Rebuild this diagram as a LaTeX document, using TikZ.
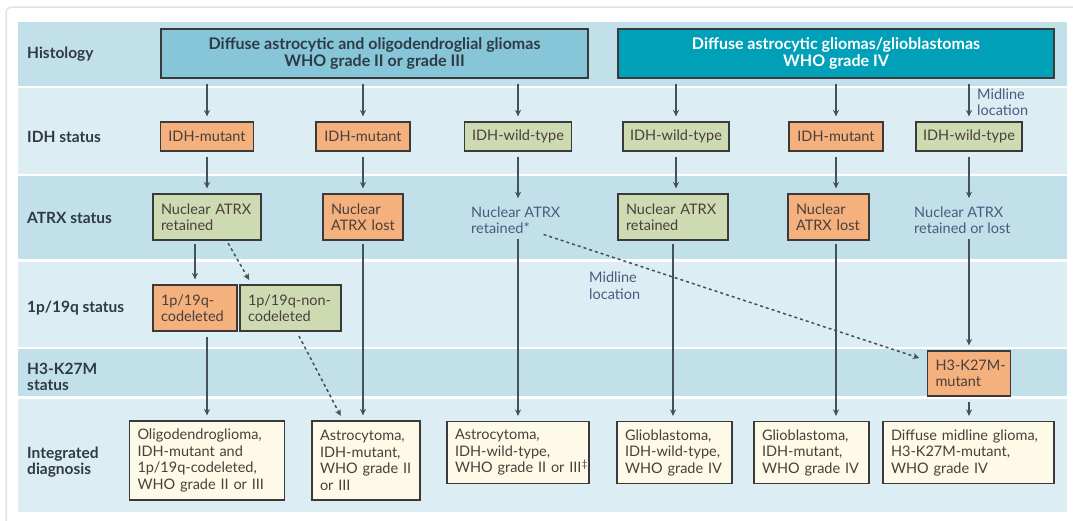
\documentclass[tikz,border=0pt]{standalone}
\usepackage{fontspec}
\setmainfont{Lato}
\usetikzlibrary{arrows.meta,calc}
\exhyphenpenalty=10000
\hyphenpenalty=10000
\definecolor{bandD}{HTML}{C2E0E9}
\definecolor{bandL}{HTML}{DCEEF3}
\definecolor{histA}{HTML}{86C6D8}
\definecolor{histB}{HTML}{00A0B8}
\definecolor{orangeF}{HTML}{F4B07D}
\definecolor{greenF}{HTML}{CEDAB2}
\definecolor{creamF}{HTML}{FDFAE8}
\definecolor{edgeC}{HTML}{3A3A3A}
\definecolor{arrC}{HTML}{44505A}
\definecolor{boxT}{HTML}{4A3F3B}
\definecolor{freeT}{HTML}{4B5A7E}
\definecolor{labT}{HTML}{2E3A44}
\definecolor{frameC}{HTML}{E2E2E2}
\begin{document}
\begin{tikzpicture}[x=1pt,y=-1pt,
  rowlab/.style={anchor=west,inner sep=0pt,align=left,text=labT,font=\fontsize{15.5}{16.5}\selectfont\bfseries},
  histbox/.style={draw=edgeC,line width=1.2pt,inner sep=0pt,align=center,font=\fontsize{16}{17}\selectfont\bfseries,minimum height=49pt},
  idhbox/.style={draw=edgeC,line width=1.2pt,inner sep=0pt,text=boxT,font=\fontsize{14.5}{16.5}\selectfont,minimum height=29pt},
  lbox/.style={draw=edgeC,line width=1.2pt,inner xsep=8pt,inner ysep=0pt,text=boxT,align=left,font=\fontsize{14.5}{16.5}\selectfont},
  freetext/.style={inner sep=0pt,text=freeT,align=left,font=\fontsize{14.5}{16.5}\selectfont},
  mut/.style={fill=orangeF},
  wt/.style={fill=greenF},
  diag/.style={fill=creamF},
  arr/.style={draw=arrC,line width=1.6pt,-{Stealth[length=6.5pt,width=6pt]},shorten <=5pt,shorten >=5pt},
  darr/.style={arr,line width=1.5pt,dash pattern=on 3pt off 3pt},
]
\useasboundingbox (0,0) rectangle (1073,520);
% outer frame
\draw[frameC,line width=1.5pt,rounded corners=5pt] (6,522) -- (6,7) -- (1075,7);
% bands
\fill[bandD] (18,22) rectangle (1067,86);
\fill[bandL] (18,88) rectangle (1067,174);
\fill[bandD] (18,176) rectangle (1067,259);
\fill[bandL] (18,262) rectangle (1067,347);
\fill[bandD] (18,349) rectangle (1067,396);
\fill[bandL] (18,399) rectangle (1067,512);
% row labels
\node[rowlab] (l1) at (27,54) {Histology};
\node[rowlab] (l2) at (27,137) {IDH status};
\node[rowlab] (l3) at (27,218) {ATRX status};
\node[rowlab] (l4) at (27,308) {1p/19q status};
\node[rowlab] (l5) at (27,377) {H3-K27M\\status};
\node[rowlab] (l6) at (27,462) {Integrated\\diagnosis};
% histology
\node[histbox,fill=histA,text=labT,minimum width=427pt] (h1) at (374.5,53.5) {Diffuse astrocytic and oligodendroglial gliomas\\WHO grade II or grade III};
\node[histbox,fill=histB,text=white,minimum width=436pt] (h2) at (836,53.5) {Diffuse astrocytic gliomas/glioblastomas\\WHO grade IV};
% IDH
\node[idhbox,mut,minimum width=93pt] (i1) at (207,136.5) {IDH-mutant};
\node[idhbox,mut,minimum width=94pt] (i2) at (363,136.5) {IDH-mutant};
\node[idhbox,wt,minimum width=107pt] (i3) at (518,136.5) {IDH-wild-type};
\node[idhbox,wt,minimum width=106pt] (i4) at (676,136.5) {IDH-wild-type};
\node[idhbox,mut,minimum width=94pt] (i5) at (836,136.5) {IDH-mutant};
\node[idhbox,wt,minimum width=106pt] (i6) at (969,136.5) {IDH-wild-type};
% ATRX
\node[lbox,wt,text width=92pt,minimum height=46pt] (a1) at (207,217) {\mbox{Nuclear ATRX}\\retained};
\node[lbox,mut,text width=64pt,minimum height=46pt] (a2) at (363,217) {Nuclear\\\mbox{ATRX lost}};
\node[freetext,anchor=west] (a3) at (471,220) {Nuclear ATRX\\retained*};
\node[lbox,wt,text width=94pt,minimum height=46pt] (a4) at (673,217) {\mbox{Nuclear ATRX}\\retained};
\node[lbox,mut,text width=65pt,minimum height=46pt] (a5) at (828.5,217) {Nuclear\\\mbox{ATRX lost}};
\node[freetext,anchor=west] (a6) at (914,220) {Nuclear ATRX\\retained or lost};
% 1p/19q
\node[lbox,mut,text width=68pt,minimum height=46pt] (p1) at (195,308) {1p/19q-\\codeleted};
\node[lbox,wt,text width=85pt,minimum height=46pt] (p2) at (290.5,308) {\mbox{1p/19q-non-}\\codeleted};
% H3
\node[lbox,mut,text width=67pt,minimum height=45pt] (k) at (969,373.5) {\mbox{H3-K27M-}\\mutant};
% diagnoses
\node[lbox,diag,text width=139pt,minimum height=79pt] (d1) at (207,460.5) {\mbox{Oligodendroglioma,}\\\mbox{IDH-mutant and}\\\mbox{1p/19q-codeleted,}\\\mbox{WHO grade II or III}};
\node[lbox,diag,text width=92pt,minimum height=79pt] (d2) at (366,460.5) {Astrocytoma,\\IDH-mutant,\\\mbox{WHO grade II}\\or III};
\node[lbox,diag,text width=126pt,minimum height=62pt] (d3) at (518,452.5) {Astrocytoma,\\IDH-wild-type,\\\mbox{WHO grade II or III\textsuperscript{‡}}};
\node[lbox,diag,text width=99pt,minimum height=62pt] (d4) at (674.5,452.5) {Glioblastoma,\\\mbox{IDH-wild-type,}\\\mbox{WHO grade IV}};
\node[lbox,diag,text width=99pt,minimum height=62pt] (d5) at (811.5,452.5) {Glioblastoma,\\IDH-mutant,\\\mbox{WHO grade IV}};
\node[lbox,diag,text width=155pt,minimum height=62pt] (d6) at (968.5,452.5) {\mbox{Diffuse midline glioma,}\\H3-K27M-mutant,\\WHO grade IV};
% labels on connectors
\node[freetext,anchor=west] (ml1) at (977,102) {Midline\\location};
\node[freetext,anchor=west] (ml2) at (589,285.5) {Midline\\location};
% arrows histology -> IDH
\draw[arr] (h1.south -| i1.north) -- (i1.north);
\draw[arr] (h1.south -| i2.north) -- (i2.north);
\draw[arr] (h1.south -| i3.north) -- (i3.north);
\draw[arr] (h2.south -| i4.north) -- (i4.north);
\draw[arr] (h2.south -| i5.north) -- (i5.north);
\draw[arr] (h2.south -| i6.north) -- (i6.north);
% IDH -> ATRX
\draw[arr] (i1.south) -- (i1.south |- a1.north);
\draw[arr] (i2.south) -- (i2.south |- a2.north);
\draw[arr,shorten >=8pt] (i3.south) -- (i3.south |- a3.north);
\draw[arr] (i4.south) -- (i4.south |- a4.north);
\draw[arr] (i5.south) -- (i5.south |- a5.north);
\draw[arr,shorten >=8pt] (i6.south) -- (i6.south |- a6.north);
% ATRX -> 1p/19q
\draw[arr,shorten <=3pt] (a1.south -| p1.north) -- (p1.north);
\draw[darr,shorten <=3pt] ($(a1.south west)!0.68!(a1.south east)$) -- ($(p2.north west)!0.12!(p2.north east)$);
% to diagnoses
\draw[arr] (p1.south -| d1.north) -- (d1.north);
\draw[darr] ($(p2.south west)!0.56!(p2.south east)$) -- ($(d2.north west)!0.29!(d2.north east)$);
\draw[arr,shorten <=3pt] (a2.south) -- (a2.south |- d2.north);
\draw[arr] (a3.south -| d3.north) -- (d3.north);
\draw[arr,shorten <=3pt] (a4.south) -- (a4.south |- d4.north);
\draw[arr,shorten <=3pt] (a5.south -| i5.south) -- (d5.north -| i5.south);
\draw[arr] (a6.south -| k.north) -- (k.north);
\draw[arr] (k.south) -- (k.south |- d6.north);
\draw[darr,shorten <=2pt,shorten >=8pt] ($(a3.south west)!0.79!(a3.south east)$) -- ($(k.north west)!0.22!(k.south west)$);
\end{tikzpicture}
\end{document}
